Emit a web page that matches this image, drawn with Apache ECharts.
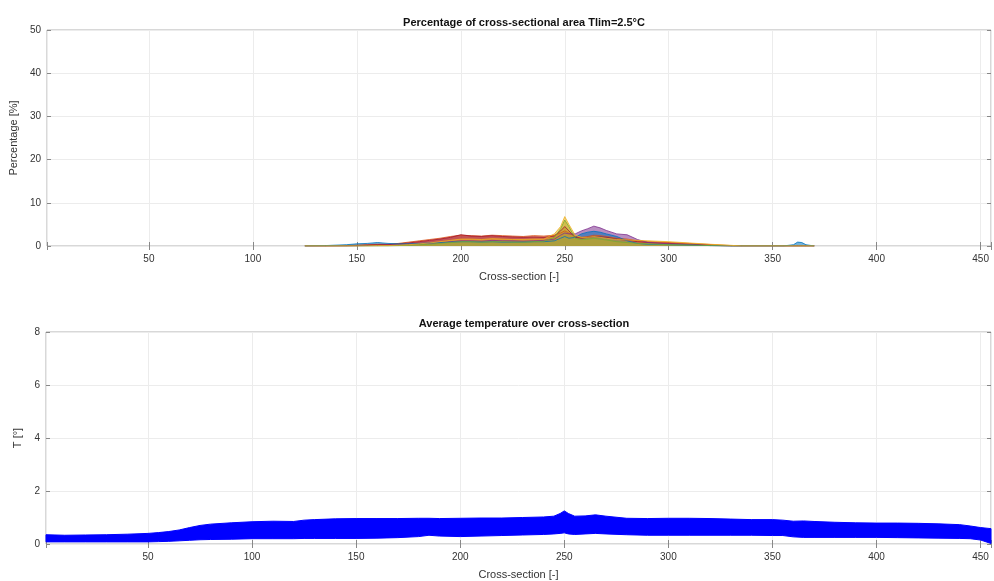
<!DOCTYPE html>
<html><head><meta charset="utf-8">
<script src="https://cdn.jsdelivr.net/npm/echarts@6/dist/echarts.min.js"></script>
<style>html,body{margin:0;padding:0;background:#fff}#c{width:994px;height:581px}</style>
</head><body><div id="c"></div>
<script>
// ---- Top panel: percentage of cross-sectional area (several runs) ----
const topX = [125,135,145,150,155,160,165,170,175,180,185,190,195,200,205,210,215,220,225,230,235,240,245,248,250,252,255,258,261,264,267,270,275,280,285,290,300,310,320,330,335,355,360,362,364,366,370];
const runOrange = [0,0,0.1,0.2,0.3,0.4,0.4,0.6,0.9,1.2,1.5,1.8,2.2,2.5,2.4,2.3,2.5,2.4,2.3,2.2,2.4,2.3,2.5,3.0,3.5,3.0,2.2,2.0,2.2,2.5,2.4,2.2,1.8,1.6,1.2,1.0,0.8,0.6,0.35,0.1,0,0,0,0,0,0,0];
const runRed    = [0,0,0,0.1,0.2,0.3,0.3,0.5,0.7,1.0,1.3,1.6,2.0,2.6,2.3,2.2,2.4,2.2,2.1,2.0,2.1,2.0,2.3,3.5,4.5,3.5,2.0,1.8,2.0,2.2,2.1,2.0,1.6,1.3,1.0,0.8,0.6,0.4,0.2,0,0,0,0,0,0,0,0];
const runYellow = [0,0,0,0,0,0.1,0.1,0.2,0.3,0.5,0.7,1.0,1.3,1.6,1.6,1.5,1.7,1.6,1.5,1.5,1.6,1.6,2.8,4.5,6.8,5.0,2.5,2.0,2.0,2.2,2.0,1.8,1.5,1.4,1.3,1.2,1.0,0.7,0.4,0.15,0,0,0,0,0,0,0];
const runPurple = [0,0,0,0,0.1,0.1,0.2,0.3,0.4,0.5,0.6,0.8,1.0,1.2,1.2,1.1,1.3,1.2,1.2,1.1,1.2,1.3,1.6,2.5,3.0,2.8,2.8,3.5,4.0,4.6,4.2,3.6,2.8,2.6,1.5,0.8,0.5,0.3,0.1,0,0,0,0,0,0,0,0];
const runGreen  = [0,0,0,0,0,0,0,0.1,0.2,0.3,0.4,0.6,0.8,1.0,1.0,0.9,1.0,1.0,0.9,0.9,1.0,1.1,2.0,4.0,6.0,4.5,1.8,1.5,1.6,1.8,1.6,1.4,1.0,0.8,0.6,0.5,0.3,0.2,0.1,0,0,0,0,0,0,0,0];
const runBlue   = [0,0.1,0.3,0.5,0.6,0.8,0.6,0.5,0.5,0.6,0.7,0.8,0.9,1.0,1.0,0.9,1.0,0.9,0.9,0.9,1.0,1.0,1.2,1.8,2.2,1.8,2.0,2.8,3.2,3.4,3.2,2.8,2.2,1.2,0.6,0.4,0.3,0.2,0.1,0,0,0,0.3,0.9,0.8,0.3,0];

// ---- Bottom panel: average temperature band (min / max over runs) ----
const botX  = [1,10,20,30,40,50,55,60,65,70,75,80,90,100,110,120,125,130,140,150,160,170,180,185,190,200,210,220,230,240,245,248,250,252,255,260,265,270,280,290,300,310,320,330,340,350,355,360,365,370,380,390,400,410,420,430,440,445,450,455];
const tUpper = [0.35,0.33,0.34,0.35,0.37,0.40,0.43,0.47,0.53,0.62,0.70,0.75,0.80,0.84,0.86,0.85,0.90,0.92,0.95,0.96,0.96,0.96,0.97,0.97,0.96,0.97,0.98,0.98,1.00,1.02,1.05,1.15,1.25,1.15,1.05,1.06,1.10,1.05,0.97,0.96,0.97,0.97,0.96,0.94,0.92,0.92,0.90,0.86,0.87,0.85,0.82,0.80,0.79,0.79,0.78,0.76,0.73,0.68,0.62,0.58];
const tLower = [0.08,0.08,0.08,0.08,0.08,0.08,0.09,0.10,0.12,0.14,0.16,0.17,0.18,0.20,0.20,0.20,0.21,0.21,0.21,0.21,0.22,0.24,0.28,0.33,0.30,0.28,0.30,0.32,0.34,0.36,0.38,0.40,0.42,0.38,0.36,0.38,0.40,0.38,0.35,0.33,0.33,0.33,0.33,0.33,0.33,0.32,0.32,0.27,0.25,0.25,0.25,0.25,0.25,0.24,0.23,0.22,0.21,0.20,0.15,0.02];

const xMin = 1, xMax = 455;
const topYTicks = {min:0, max:50, interval:10};
const botYTicks = {min:0, max:8, interval:2};

const FONT = 'Liberation Sans';
const tickCol = '#333';
const frameCol = '#b0b0b0';
const gridCol = '#ececec';

function xAxisDef(gi, pos, main) {
  return {
    type:'value', gridIndex:gi, position:pos, min:xMin, max:xMax,
    splitNumber:9, minInterval:50, maxInterval:50,
    name: main ? 'Cross-section [-]' : '', nameLocation:'middle', nameGap:25,
    nameTextStyle:{fontFamily:FONT, fontSize:11, color:'#333'},
    axisLine:{show:false},
    axisTick:{show:true, inside:true, length:4, lineStyle:{color:'#888'}},
    axisLabel:{show:main, fontFamily:FONT, fontSize:10, color:tickCol, margin:8,
      formatter:v => (v % 50 === 0 && v > 0) ? String(v) : ''},
    splitLine:{show:main, lineStyle:{color:gridCol, width:1}}
  };
}
function yAxisDef(gi, pos, main, t, name, gap) {
  return {
    type:'value', gridIndex:gi, position:pos, min:t.min, max:t.max, interval:t.interval,
    name: main ? name : '', nameLocation:'middle', nameGap:gap || 20,
    nameTextStyle:{fontFamily:FONT, fontSize:11, color:'#333'},
    axisLine:{show:false},
    axisTick:{show:true, inside:true, length:4, lineStyle:{color:'#888'}},
    axisLabel:{show:main, fontFamily:FONT, fontSize:10, color:tickCol, margin:6},
    splitLine:{show:main, lineStyle:{color:gridCol, width:1}}
  };
}

function toPairs(xs, ys) { return xs.map((x, i) => [x, ys[i]]); }

const runColors = [['#D95319', runOrange], ['#A2142F', runRed], ['#7E2F8E', runPurple], ['#0072BD', runBlue], ['#77AC30', runGreen], ['#EDB120', runYellow]];

const series = [];
runColors.forEach(([c, arr]) => {
  series.push({
    type:'line', xAxisIndex:0, yAxisIndex:0, symbol:'none', silent:true,
    data: toPairs(topX, arr),
    lineStyle:{color:c, width:1, opacity:0.8},
    areaStyle:{color:c, opacity:0.55}
  });
});
// band between lower and upper envelopes, drawn as polygon through the axis scales
const bandData = botX.map((x, i) => [x, tLower[i], tUpper[i]]);
series.push({
  type:'custom', xAxisIndex:2, yAxisIndex:2, silent:true,
  data: [0],
  renderItem: function (params, api) {
    const up = bandData.map(d => api.coord([d[0], d[2]]));
    const lo = bandData.map(d => api.coord([d[0], d[1]])).reverse();
    return {
      type:'polygon',
      shape:{points: up.concat(lo)},
      style:{fill:'#0000FF', stroke:'#0000FF', lineWidth:1}
    };
  }
});

const option = {
  backgroundColor:'#fff',
  animation:false,
  title:[
    {text:'Percentage of cross-sectional area Tlim=2.5°C', left:519, top:12, textAlign:'center',
     textStyle:{fontFamily:FONT, fontSize:11, fontWeight:'bold', color:'#111'}},
    {text:'Average temperature over cross-section', left:519, top:313, textAlign:'center',
     textStyle:{fontFamily:FONT, fontSize:11, fontWeight:'bold', color:'#111'}}
  ],
  grid:[
    {left:46, right:2, top:30, height:216, show:true, borderColor:frameCol, borderWidth:1, backgroundColor:'#fff'},
    {left:46, right:2, top:332, height:215, show:true, borderColor:frameCol, borderWidth:1, backgroundColor:'#fff'}
  ],
  xAxis:[ xAxisDef(0,'bottom',true), xAxisDef(0,'top',false), xAxisDef(1,'bottom',true), xAxisDef(1,'top',false) ],
  yAxis:[ yAxisDef(0,'left',true,topYTicks,'Percentage [%]',18), yAxisDef(0,'right',false,topYTicks,''),
          yAxisDef(1,'left',true,botYTicks,'T [°]',17), yAxisDef(1,'right',false,botYTicks,'') ],
  series
};
echarts.init(document.getElementById('c')).setOption(option);
</script></body></html>
